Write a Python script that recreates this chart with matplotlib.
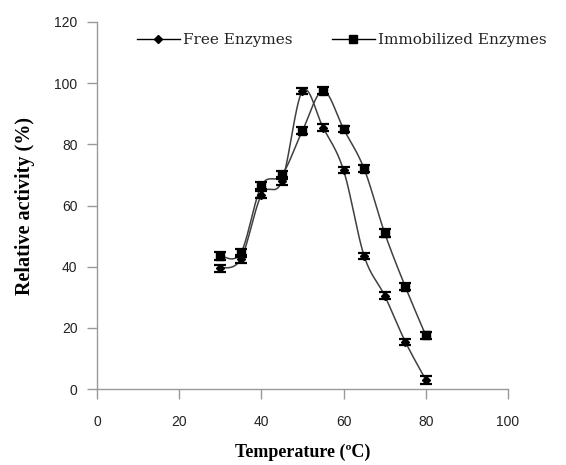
import numpy as np
import matplotlib
matplotlib.use("Agg")
import matplotlib.pyplot as plt
from matplotlib.lines import Line2D

temperature = [30, 35, 40, 45, 50, 55, 60, 65, 70, 75, 80]
free_activity = [39.5, 42.5, 63.5, 68.0, 97.5, 85.5, 71.5, 43.5, 30.5, 15.5, 3.0]
free_err = [1.2, 1.2, 1.2, 1.2, 1.0, 1.2, 1.0, 1.0, 1.2, 1.0, 1.2]
immob_activity = [43.5, 44.5, 66.5, 70.0, 84.5, 97.5, 85.0, 72.0, 51.0, 33.5, 17.5]
immob_err = [1.2, 1.2, 1.2, 1.2, 1.2, 1.2, 1.0, 1.2, 1.2, 1.2, 1.2]
series_names = ["Free Enzymes", "Immobilized Enzymes"]
x_ticks = [0, 20, 40, 60, 80, 100]
y_ticks = [0, 20, 40, 60, 80, 100, 120]


def smooth(ax, x, y, n=30):
    # Excel-like smoothed line (Catmull-Rom Bezier in display space)
    pts = ax.transData.transform(np.column_stack([x, y]))
    out = []
    m = len(pts)
    for i in range(m - 1):
        p0 = pts[i - 1] if i > 0 else pts[i]
        p1 = pts[i]
        p2 = pts[i + 1]
        p3 = pts[i + 2] if i + 2 < m else pts[i + 1]
        c1 = p1 + (p2 - p0) / 6.0
        c2 = p2 - (p3 - p1) / 6.0
        t = np.linspace(0, 1, n)[:, None]
        seg = ((1 - t) ** 3) * p1 + 3 * ((1 - t) ** 2) * t * c1 + 3 * (1 - t) * t ** 2 * c2 + t ** 3 * p2
        out.append(seg if i == 0 else seg[1:])
    out = np.vstack(out)
    return ax.transData.inverted().transform(out)


fig = plt.figure(figsize=(5.66, 4.65), dpi=100)
ax = fig.add_axes([0.1714, 0.1634, 0.7261, 0.7893])
ax.set_xlim(0, 100)
ax.set_ylim(0, 120)

line_col = "#404040"
for yv, err, mk, ms in [(free_activity, free_err, "D", 4.0), (immob_activity, immob_err, "s", 6.0)]:
    c = smooth(ax, temperature, yv)
    ax.plot(c[:, 0], c[:, 1], color=line_col, lw=1.1, zorder=2)
    ax.errorbar(temperature, yv, yerr=err, fmt="none", ecolor="black",
                elinewidth=1.2, capsize=4.5, capthick=1.6, zorder=3)
    ax.plot(temperature, yv, linestyle="none", marker=mk, markersize=ms,
            color="black", zorder=4)

for s in ["top", "right"]:
    ax.spines[s].set_visible(False)
for s in ["left", "bottom"]:
    ax.spines[s].set_color("#999999")
    ax.spines[s].set_linewidth(1.0)

ax.set_xticks(x_ticks)
ax.set_yticks(y_ticks)
ax.tick_params(direction="out", length=7, width=1.0, color="#999999",
               labelsize=10, labelcolor="#222222")
ax.tick_params(axis="x", pad=12)
ax.tick_params(axis="y", pad=7)
for lab in ax.get_xticklabels() + ax.get_yticklabels():
    lab.set_family("Liberation Sans")

ax.set_xlabel("Temperature (ºC)", family="Liberation Serif", fontweight="bold",
              fontsize=13, labelpad=10)
ax.set_ylabel("Relative activity (%)", family="Liberation Serif", fontweight="bold",
              fontsize=14.5, labelpad=14)

handles = [
    Line2D([], [], color="black", lw=1.0, marker="D", markersize=4),
    Line2D([], [], color="black", lw=1.0, marker="s", markersize=6),
]
leg = ax.legend(handles, series_names, loc="center left", bbox_to_anchor=(0.097, 0.951),
                ncol=2, frameon=False, handlelength=2.8, handletextpad=0.2,
                columnspacing=2.6, borderpad=0, borderaxespad=0,
                prop={"family": "DejaVu Serif", "size": 11})
for t in leg.get_texts():
    t.set_color("#222222")

fig.savefig("out.png", dpi=100)
